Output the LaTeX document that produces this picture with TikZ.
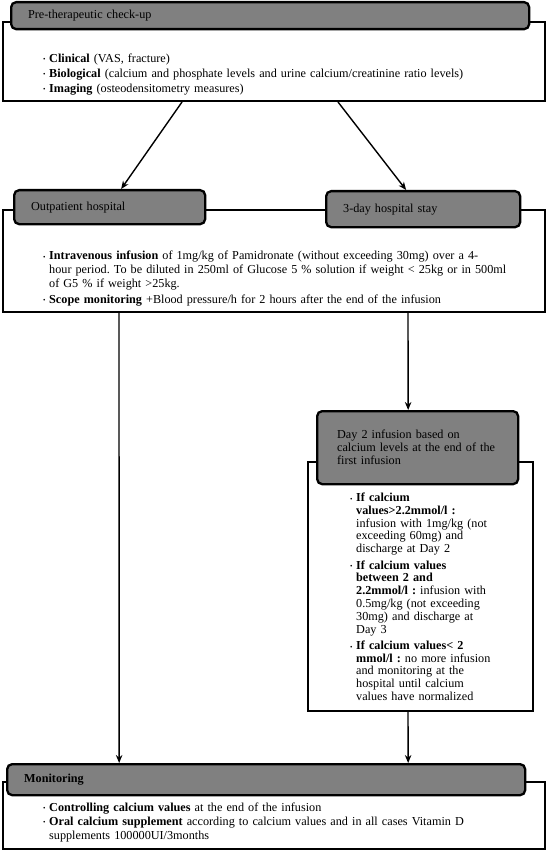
\documentclass[tikz,border=0pt]{standalone}
\usepackage{fontspec}
\setmainfont{Liberation Serif}
\usetikzlibrary{arrows.meta}
\frenchspacing

\newcommand{\bul}{\makebox[6pt][l]{\raisebox{0.3pt}{\scriptsize\textbullet}}}
\newcommand{\itm}{\par\noindent\hangindent=6pt\hangafter=1\bul}

\tikzset{
	panel/.style={draw, line width=2pt, fill=white, anchor=north west, inner sep=0pt},
	head/.style={draw, line width=2.3pt, fill=black!50, rounded corners=5pt, anchor=north west,
		inner xsep=17pt, inner ysep=0pt, align=left, font=\fontsize{12.2}{13.5}\selectfont},
	txt/.style={anchor=north west, inner sep=0pt, align=left},
	arr/.style={-{Stealth[length=8pt, width=6.5pt]}, line width=1.4pt}
}

\begin{document}
\begin{tikzpicture}[x=1pt, y=-1pt]
	\useasboundingbox (0,0) rectangle (546,850);

	% check-up
	\node[panel, minimum width=542, minimum height=79] (chk) at (2,21) {};
	\node[head, minimum width=518, minimum height=27, text width=484] (chkhead) at (10,1) {Pre-therapeutic check-up};
	\node[txt, text width=490, font=\fontsize{12.2}{15}\selectfont] (chktxt) at (43,47) {%
		\itm\textbf{Clinical} (VAS, fracture)
		\itm\textbf{Biological} (calcium and phosphate levels and urine calcium/creatinine ratio levels)
		\itm\textbf{Imaging} (osteodensitometry measures)\par};

	% first infusion
	\node[panel, minimum width=542, minimum height=102] (inf) at (2,209) {};
	\node[head, minimum width=191, minimum height=34, text width=157] (outhead) at (13,189) {Outpatient hospital};
	\node[head, minimum width=194, minimum height=36, text width=160] (stayhead) at (325,190) {3-day hospital stay};
	\node[txt, text width=495, font=\fontsize{12.2}{14}\selectfont\setlength{\parskip}{1.5pt}] (inftxt) at (43,244) {%
		\itm\textbf{Intravenous infusion} of 1mg/kg of Pamidronate (without exceeding 30mg) over a 4-\newline
		hour period. To be diluted in 250ml of Glucose 5 \% solution if weight < 25kg or in 500ml\newline
		of G5 \% if weight >25kg.
		\itm\textbf{Scope monitoring} +Blood pressure/h for 2 hours after the end of the infusion\par};

	% day 2
	\node[panel, minimum width=225, minimum height=249] (day2) at (307,461) {};
	\node[head, minimum width=201, minimum height=73, inner xsep=20pt, text width=161,
		font=\fontsize{12.2}{13}\selectfont] (day2head) at (316,410) {Day 2 infusion based on\\
		calcium levels at the end of the\\ first infusion};
	\node[txt, text width=170, font=\fontsize{12.2}{12.8}\selectfont\setlength{\parskip}{3.5pt}] (day2txt) at (350,485) {%
		\itm\textbf{If calcium\newline values>2.2mmol/l :}\newline infusion with 1mg/kg (not\newline
		exceeding 60mg) and\newline discharge at Day 2
		\itm\textbf{If calcium values\newline between 2 and\newline 2.2mmol/l :} infusion with\newline
		0.5mg/kg (not exceeding\newline 30mg) and discharge at\newline Day 3
		\itm\textbf{If calcium values< 2\newline mmol/l :} no more infusion\newline
		and monitoring at the\newline hospital until calcium\newline values have normalized\par};

	% monitoring
	\node[panel, minimum width=542, minimum height=67] (mon) at (2,781) {};
	\node[head, minimum width=518, minimum height=31, text width=484] (monhead) at (6,763) {\textbf{Monitoring}};
	\node[txt, text width=495, font=\fontsize{12.2}{14}\selectfont] (montxt) at (43,797) {%
		\itm\textbf{Controlling calcium values} at the end of the infusion
		\itm\textbf{Oral calcium supplement} according to calcium values and in all cases Vitamin D\newline
		supplements 100000UI/3months\par};

	% connectors
	\draw[arr] ([xshift=-92pt]chk.south) -- ([xshift=11.5pt]outhead.north);
	\draw[arr] ([xshift=64pt]chk.south) -- ([xshift=-17pt]stayhead.north);
	\draw[arr] ([xshift=-155pt]inf.south) -- ([xshift=-147pt]monhead.north);
	\draw[arr] ([xshift=134pt]inf.south) -- ([xshift=-9.5pt]day2head.north);
	\draw[arr] ([xshift=-12.5pt]day2.south) -- ([xshift=142pt]monhead.north);
\end{tikzpicture}
\end{document}
